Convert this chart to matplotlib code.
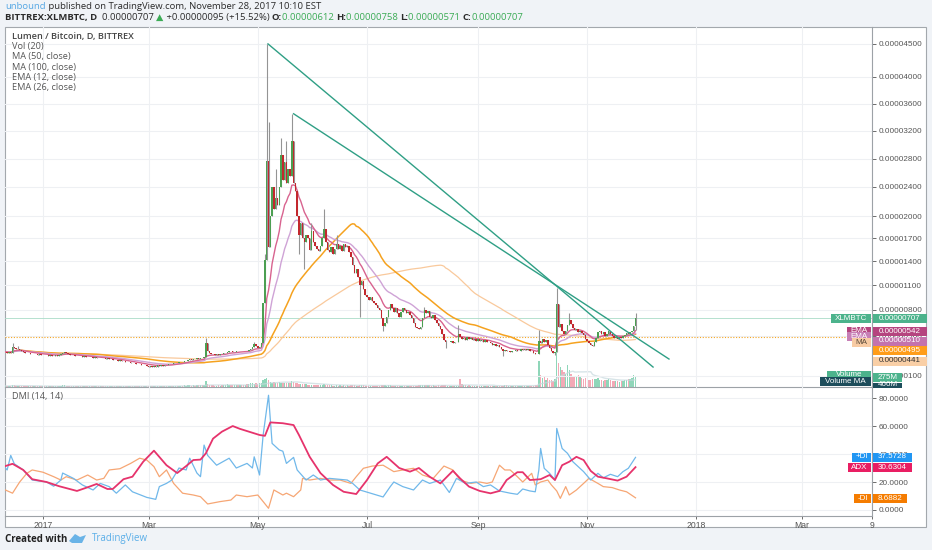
import numpy as np
import pandas as pd
import matplotlib
matplotlib.use('Agg')
import matplotlib.pyplot as plt
from matplotlib.patches import Rectangle, Polygon
from matplotlib.ticker import FixedLocator, FuncFormatter

# daily closes in satoshi (1e-8 BTC), 2016-12-11 .. 2017-11-28
close_dec = [330, 320, 325, 320, 380, 370, 360, 365, 350, 345, 330, 320, 315, 320, 310, 305, 310, 305, 300, 305, 300]
close_jan = [300, 295, 300, 290, 295, 285, 290, 295, 290, 300, 310, 320, 330, 315, 305, 300, 295, 300, 290, 285,
             290, 285, 280, 285, 280, 275, 280, 275, 270, 275, 270]
close_feb = [265, 270, 268, 265, 260, 265, 255, 260, 250, 245, 250, 240, 245, 235, 240, 230, 225, 230, 220, 215,
             220, 210, 205, 210, 200, 195, 200, 190]
close_mar = [185, 190, 185, 190, 185, 195, 190, 195, 190, 200, 195, 205, 210, 205, 215, 220, 215, 225, 230, 225,
             235, 240, 245, 255, 250, 260, 255, 265, 260, 270, 265]
close_apr = [275, 420, 340, 320, 310, 305, 300, 305, 300, 310, 305, 315, 320, 330, 345, 335, 325, 330, 340, 335,
             345, 340, 335, 345, 340, 350, 360, 380, 410, 390]
close_may = [370, 380, 420, 880, 1420, 2770, 1590, 2000, 2400, 2100, 2250, 2150, 2400, 2850, 2500, 2750, 2450, 2650,
             2550, 3050, 2450, 2350, 2000, 1750, 1900, 1700, 1650, 1750, 1700, 1550, 1800]
close_jun = [1650, 1600, 1560, 1530, 1600, 1700, 1820, 1650, 1550, 1520, 1580, 1500, 1560, 1620, 1560, 1600, 1530,
             1620, 1580, 1600, 1520, 1450, 1350, 1250, 1300, 1200, 1100, 1150, 1050, 980]
close_jul = [950, 920, 960, 900, 880, 860, 820, 800, 700, 610, 650, 720, 800, 870, 820, 780, 820, 760, 720, 780,
             820, 800, 760, 780, 740, 700, 650, 600, 590, 580, 600]
close_aug = [700, 800, 760, 790, 720, 700, 740, 680, 650, 610, 580, 520, 460, 430, 440, 430, 445, 425, 435, 440,
             520, 490, 470, 480, 460, 490, 470, 480, 460, 470, 450]
close_sep = [465, 445, 455, 440, 455, 430, 440, 420, 405, 415, 395, 400, 385, 360, 340, 350, 335, 340, 330, 345,
             335, 350, 340, 345, 360, 355, 365, 350, 360, 345]
close_oct = [340, 320, 310, 305, 450, 420, 470, 440, 460, 400, 370, 340, 320, 330, 870, 600, 640, 560, 520, 560,
             620, 680, 640, 590, 570, 575, 550, 560, 530, 510, 470]
close_nov = [450, 420, 400, 390, 430, 480, 540, 560, 520, 540, 500, 520, 560, 520, 500, 480, 495, 470, 490, 480,
             500, 510, 530, 520, 540, 560, 612, 707]

# wicks reaching past the bodies: day counted from 2017-01-01 -> satoshi
wick_high = {-17: 420, -14: 390, 91: 480, 118: 440, 124: 1500, 125: 4500, 126: 3330, 130: 2650, 133: 3100,
             136: 3050, 139: 3450, 150: 1900, 157: 2100, 164: 1750, 213: 830, 232: 620, 277: 570, 287: 1060,
             294: 760, 331: 758}
wick_low = {143: 1500, 146: 1300, 177: 720, 190: 560, 225: 370, 257: 290, 286: 300, 331: 571}

# volume, millions
vol_dec = [30, 25, 30, 35, 60, 45, 40, 40, 30, 30, 25, 25, 20, 25, 20, 20, 25, 20, 20, 25, 20]
vol_jan = [20, 20, 25, 20, 20, 20, 25, 20, 25, 30, 40, 45, 50, 30, 25, 20, 20, 25, 20, 20, 20, 22, 20, 18, 20,
           20, 25, 20, 18, 20, 20]
vol_feb = [20, 22, 18, 20, 25, 20, 18, 20, 22, 20, 18, 20, 20, 22, 18, 20, 20, 18, 22, 20, 18, 20, 22, 20, 25,
           20, 18, 20]
vol_mar = [20, 22, 18, 20, 22, 25, 20, 22, 20, 25, 25, 30, 25, 30, 35, 30, 35, 40, 35, 40, 45, 40, 45, 50, 40,
           45, 40, 50, 45, 50, 45]
vol_apr = [60, 160, 90, 60, 50, 45, 40, 40, 45, 40, 45, 50, 55, 70, 60, 55, 50, 55, 60, 55, 50, 55, 50, 60, 70,
           80, 120, 110, 90, 100]
vol_may = [90, 100, 120, 180, 220, 240, 200, 150, 120, 130, 110, 120, 140, 110, 120, 100, 100, 110, 120, 160,
           140, 120, 100, 90, 90, 90, 70, 70, 60, 60, 60]
vol_jun = [60, 55, 50, 50, 55, 60, 80, 60, 50, 45, 45, 40, 40, 50, 40, 45, 40, 45, 40, 45, 40, 45, 50, 45, 40,
           40, 55, 45, 45, 40]
vol_jul = [40, 35, 35, 38, 35, 36, 40, 40, 45, 50, 45, 40, 45, 50, 40, 35, 40, 35, 36, 35, 40, 35, 38, 35, 30,
           35, 36, 40, 40, 42, 45]
vol_aug = [50, 60, 55, 50, 45, 40, 42, 40, 40, 45, 40, 45, 50, 45, 40, 35, 36, 35, 38, 35, 35, 230, 80, 60, 50,
           40, 42, 40, 35, 36, 35]
vol_sep = [35, 36, 35, 38, 35, 35, 30, 32, 30, 30, 35, 36, 35, 35, 40, 50, 45, 40, 35, 36, 35, 38, 35, 35, 40,
           40, 35, 36, 40, 35]
vol_oct = [35, 40, 50, 45, 720, 330, 250, 280, 200, 260, 200, 180, 160, 220, 1700, 650, 560, 480, 420, 360, 600,
           460, 360, 300, 280, 300, 330, 280, 250, 220, 260]
vol_nov = [200, 180, 200, 220, 210, 230, 250, 200, 180, 170, 190, 200, 210, 180, 170, 160, 170, 160, 150, 160,
           170, 180, 200, 220, 230, 240, 320, 275]

# DMI (14, 14): (day from 2017-01-01, value)
adx = [(-21, 31.4), (-17, 33), (-11, 28.6), (-6, 22), (2, 20), (9, 17), (19, 13.6), (26, 16.7), (30, 18.6),
       (36, 15), (39, 15), (45, 22), (50, 23.8), (56, 34.5), (62, 42.4), (69, 32), (75, 26.4), (80, 31.4),
       (84, 35.7), (88, 36), (91, 40.5), (95, 51), (100, 56), (106, 60), (110, 58), (115, 56), (121, 53.6),
       (124, 53), (127, 62.6), (134, 62), (140, 60.7), (143, 53.6), (149, 38), (155, 26.4), (162, 17.9),
       (168, 13), (175, 11.4), (181, 21.4), (187, 33.3), (192, 38), (199, 30), (205, 27.4), (210, 30),
       (216, 23.8), (222, 19), (229, 28), (233, 22.6), (238, 16.7), (244, 13.6), (250, 11.9), (255, 13.6),
       (259, 21.4), (265, 27), (268, 27), (272, 21.4), (278, 22), (283, 25), (286, 21.4), (290, 32), (294, 34.5),
       (298, 38), (302, 35.7), (306, 27.9), (310, 23.8), (315, 22.6), (321, 21), (326, 23.8), (331, 30.6)]
plus_di = [(-21, 30), (-20, 28.6), (-18, 39), (-16, 33), (-11, 28.6), (-6, 21.4), (2, 20), (6, 17), (10, 21.4),
           (11, 26.4), (17, 22.6), (22, 17.9), (28, 14.3), (32, 19), (37, 16.7), (41, 12), (46, 17.9), (50, 13),
           (58, 9), (63, 7.6), (65, 16.7), (69, 19), (72, 21.4), (76, 30), (80, 28.6), (82, 37), (86, 26.4),
           (88, 23.8), (90, 46.4), (92, 39), (97, 32), (104, 37), (108, 30), (114, 33.3), (117, 30), (118, 38),
           (121, 25), (123, 53.6), (126, 82), (128, 47.6), (132, 42.9), (134, 42), (136, 33.3), (140, 37.6),
           (142, 28.6), (147, 21.4), (151, 25), (155, 21.4), (160, 22.6), (170, 21.4), (173, 19), (177, 14.3),
           (183, 12), (190, 9.3), (194, 16.7), (196, 20), (201, 16.7), (207, 14.3), (212, 21.4), (216, 19),
           (222, 21.4), (227, 12.5), (231, 22.6), (236, 19), (242, 20), (246, 16.7), (250, 17.9), (255, 13.6),
           (261, 12), (265, 11.2), (268, 15), (272, 13.6), (275, 13), (277, 28.6), (278, 44), (280, 29.8),
           (283, 26.2), (286, 21.4), (287, 58.3), (290, 44), (293, 40.5), (296, 34.5), (302, 27.4), (306, 21.4),
           (310, 26.2), (313, 23), (317, 25.5), (321, 23.8), (324, 27.4), (327, 29.8), (331, 37.6)]
minus_di = [(-21, 14.3), (-17, 12), (-13, 20), (-9, 26.2), (-6, 28.6), (0, 27), (6, 23.8), (10, 21.4), (13, 23.8),
            (19, 21.4), (25, 25), (30, 21.4), (34, 22.6), (37, 28.6), (43, 29.5), (49, 33.3), (54, 37), (58, 35.7),
            (62, 31), (65, 23.8), (69, 28.6), (73, 19), (78, 12), (84, 10.7), (88, 9.5), (92, 4.3), (99, 6),
            (105, 7.1), (108, 10.7), (114, 9.5), (120, 10.7), (123, 6), (126, 1.2), (129, 14.3), (134, 10.7),
            (136, 12), (140, 9.5), (144, 14.3), (145, 22.6), (149, 21.4), (155, 22.6), (160, 21.4), (166, 21.4),
            (172, 19), (175, 23.8), (179, 29.8), (184, 31.4), (190, 32), (196, 27.4), (201, 28.6), (207, 29.8),
            (212, 25), (218, 22.6), (224, 31.4), (229, 28.6), (233, 21.4), (239, 19), (244, 20), (248, 19),
            (251, 20), (255, 32), (258, 28.6), (261, 28.6), (265, 23.8), (268, 20), (273, 26.2), (275, 17.9),
            (278, 20), (282, 21.4), (284, 17.9), (287, 13.6), (289, 8.3), (292, 16.7), (294, 10.7), (298, 14.3),
            (302, 19), (305, 22.6), (310, 19), (313, 16.7), (318, 16), (322, 14.3), (326, 13), (331, 8.7)]

# hand drawn trend lines (day, satoshi)
trend_a = [(125.7, 4500), (340.8, 180)]
trend_b = [(140.0, 3450), (349.7, 258)]

price_ticks = [4500, 4000, 3600, 3200, 2800, 2400, 2000, 1700, 1400, 1100, 800, 500, 100]
dmi_ticks = [0, 20, 40, 60, 80]
time_ticks = ['2017-01-01', '2017-03-01', '2017-05-01', '2017-07-01', '2017-09-01', '2017-11-01',
              '2018-01-01', '2018-03-01', '2018-04-09']
time_labels = ['2017', 'Mar', 'May', 'Jul', 'Sep', 'Nov', '2018', 'Mar', '9']

# ---------------------------------------------------------------
t0 = pd.Timestamp('2017-01-01')
close = np.array(close_dec + close_jan + close_feb + close_mar + close_apr + close_may + close_jun +
                 close_jul + close_aug + close_sep + close_oct + close_nov, dtype=float)
volume = np.array(vol_dec + vol_jan + vol_feb + vol_mar + vol_apr + vol_may + vol_jun + vol_jul +
                  vol_aug + vol_sep + vol_oct + vol_nov, dtype=float)
dates = pd.date_range('2016-12-11', periods=len(close), freq='D')
x = np.array((dates - t0).days, dtype=float)

opn = np.r_[close[0], close[:-1]]
high = np.maximum(opn, close)
low = np.minimum(opn, close)
for d, v in wick_high.items():
    high[x == d] = v
for d, v in wick_low.items():
    low[x == d] = v
up = close >= opn

s = pd.Series(close)
ma50 = s.rolling(50, min_periods=1).mean()
ma100 = s.rolling(100, min_periods=1).mean()
ema12 = s.ewm(span=12, adjust=False).mean()
ema26 = s.ewm(span=26, adjust=False).mean()
vol_ma = pd.Series(volume).rolling(20, min_periods=1).mean()

W, H = 932, 550
fig = plt.figure(figsize=(W / 100, H / 100), dpi=100, facecolor='#f0f3f7')
AX_FONT = 'Liberation Sans'
TXT_FONT = ['Open Sans', 'DejaVu Sans']


def rect(x0, y0, x1, y1):
    return [x0 / W, 1 - y1 / H, (x1 - x0) / W, (y1 - y0) / H]


# chart frame
fig.add_artist(Rectangle((5 / W, 1 - 527 / H), 921 / W, 500 / H, transform=fig.transFigure,
                         fc='white', ec='#a3a8ad', lw=0.8, zorder=-1))

ax_v = fig.add_axes(rect(5, 27, 872, 387))
ax_p = fig.add_axes(rect(5, 27, 872, 387), sharex=ax_v)
ax_d = fig.add_axes(rect(5, 387, 872, 516), sharex=ax_v)
for a in (ax_v, ax_p, ax_d):
    a.set_facecolor('none')

x_lo, x_hi = -21.2, 463.1
ax_v.set_xlim(x_lo, x_hi)

# volume in the bottom of the price pane
ax_v.axis('off')
ax_v.bar(x, volume, width=0.75, color=np.where(up, '#8fd6b9', '#f3a9b6'), linewidth=0)
ax_v.plot(x, vol_ma, color='#c7d9de', lw=1.0, alpha=0.7)
ax_v.set_ylim(0, 9900)

# price pane, TradingView style compressed scale
ax_p.set_yscale('function', functions=(lambda v: np.clip(v, 1e-6, None) ** 0.85,
                                       lambda v: np.clip(v, 1e-6, None) ** (1 / 0.85)))
ax_p.set_ylim(13.3, 4760)
ax_p.yaxis.set_major_locator(FixedLocator(price_ticks))
ax_p.yaxis.set_major_formatter(FuncFormatter(lambda v, p: f'{v * 1e-8:.8f}'))
ax_p.yaxis.set_minor_locator(FixedLocator([]))
ax_p.yaxis.tick_right()
ax_p.tick_params(axis='y', labelsize=5.9, colors='#555555', length=3, width=0.6, pad=2)
ax_p.tick_params(axis='x', labelbottom=False, length=0)
for lab in ax_p.get_yticklabels():
    lab.set_family(AX_FONT)

xt = [(pd.Timestamp(d) - t0).days for d in time_ticks]
ax_p.set_xticks(xt)
for a in (ax_p, ax_d):
    a.grid(True, color='#eef0f3', lw=0.8)
    a.set_axisbelow(True)
    for k in ('left', 'top'):
        a.spines[k].set_visible(False)
    for k in ('right', 'bottom'):
        a.spines[k].set_color('#9da2a7')
        a.spines[k].set_linewidth(0.8)

ax_p.axhline(707, color='#a9dcc8', lw=0.6, zorder=1)
ax_p.axhline(495, color='#f5a623', lw=0.8, ls=(0, (1, 1.5)), zorder=1)

ax_p.plot(x, ma100, color='#f9c99c', lw=0.9, zorder=2)
ax_p.plot(x, ma50, color='#f5a21f', lw=1.1, zorder=2)
ax_p.plot(x, ema26, color='#cfa3d6', lw=1.0, zorder=2)
ax_p.plot(x, ema12, color='#d8638f', lw=1.0, zorder=2)

ax_p.vlines(x, low, high, color='#949494', lw=0.8, zorder=3)
ax_p.bar(x, np.maximum(np.abs(close - opn), 3), bottom=np.minimum(opn, close), width=0.82,
         color=np.where(up, '#4c9f52', '#c3282e'), linewidth=0, zorder=4)

for line in (trend_a, trend_b):
    tx, ty = zip(*line)
    ax_p.plot(tx, ty, color='#2f9f85', lw=1.0, zorder=5)

# DMI pane
for data, color, lw in ((minus_di, '#f6a674', 0.9), (plus_di, '#70b8ea', 0.9), (adx, '#e6336c', 1.3)):
    dx, dy = zip(*data)
    ax_d.plot(dx, dy, color=color, lw=lw)
ax_d.set_ylim(-4.3, 87.9)
ax_d.yaxis.set_major_locator(FixedLocator(dmi_ticks))
ax_d.yaxis.set_major_formatter(FuncFormatter(lambda v, p: f'{v:.4f}'))
ax_d.yaxis.tick_right()
ax_d.tick_params(axis='y', labelsize=5.9, colors='#555555', length=3, width=0.6, pad=2)
ax_d.set_xticks(xt)
ax_d.set_xticklabels(time_labels)
ax_d.tick_params(axis='x', labelsize=6.2, colors='#555555', length=2, width=0.6, pad=1.5)
for lab in ax_d.get_yticklabels() + ax_d.get_xticklabels():
    lab.set_family(AX_FONT)
ax_d.set_xlim(x_lo, x_hi)


# value tags on the right axis
def tag(x0, x1, yc, text, fc, tc='white', h=9):
    fig.add_artist(Rectangle((x0 / W, 1 - (yc + h / 2) / H), (x1 - x0) / W, h / H,
                             transform=fig.transFigure, fc=fc, ec='none', zorder=10))
    fig.text((x0 + x1) / 2 / W, 1 - yc / H, text, color=tc, fontsize=5.8, family=AX_FONT,
             ha='center', va='center', zorder=11)


tag(831, 871, 318, 'XLMBTC', '#4cb38c')
tag(873, 927, 318, '0.00000707', '#4cb38c')
tag(847, 871, 331, 'EMA', '#b5447f')
tag(873, 927, 331.5, '0.00000542', '#b5447f')
tag(847, 871, 336, 'EMA', '#c77fb6')
tag(852, 871, 342, 'MA', '#f8cba3', '#5a4a3a')
tag(873, 927, 341, '0.00000510', '#c472ad')
tag(873, 927, 350.5, '0.00000495', '#ff9d1a')
tag(873, 927, 361, '0.00000441', '#f9cfa6', '#333333')
tag(827, 871, 375, 'Volume', '#4cb38c')
tag(873, 902, 377.5, '275M', '#4cb38c')
tag(873, 902, 385, '466M', '#1d4d5b', h=5)
tag(820, 871, 381.5, 'Volume MA', '#1d4d5b')
tag(852, 871, 457, '+DI', '#2196f3')
tag(873, 912, 457, '37.5728', '#2196f3')
tag(848, 871, 467.5, 'ADX', '#e91e63')
tag(873, 912, 467.5, '30.6304', '#e91e63')
tag(854, 871, 498, '-DI', '#f57c00')
tag(873, 907, 498, '8.6882', '#f57c00')

# legends inside the panes
fig.text(12 / W, 1 - 36 / H, 'Lumen / Bitcoin, D, BITTREX', fontsize=6.6, color='#444444',
         fontweight='semibold', family=TXT_FONT, va='center')
for i, s_ in enumerate(['Vol (20)', 'MA (50, close)', 'MA (100, close)', 'EMA (12, close)', 'EMA (26, close)']):
    fig.text(12 / W, 1 - (46.5 + 10.3 * i) / H, s_, fontsize=6.6, color='#555555', family=TXT_FONT, va='center')
fig.text(12 / W, 1 - 397 / H, 'DMI (14, 14)', fontsize=6.6, color='#555555', family=TXT_FONT, va='center')

# header and footer
rend = fig.canvas.get_renderer()


def text_run(x0, y, parts, size=6.8):
    for txt, color, weight in parts:
        t = fig.text(x0 / W, 1 - y / H, txt, color=color, fontsize=size, fontweight=weight,
                     family=TXT_FONT, ha='left', va='center')
        x0 = t.get_window_extent(rend).x1


dark = '#2b2b2b'
green = '#3bab55'
text_run(5, 6.5, [('unbound', '#55a7e4', 'normal'),
                  (' published on TradingView.com, November 28, 2017 10:10 EST', dark, 'normal')])
text_run(5, 17.5, [('BITTREX:XLMBTC, D', dark, 'bold'), ('  0.00000707 ', dark, 'normal'),
                   ('\u25b2', green, 'normal'), (' +0.00000095 (+15.52%) ', dark, 'normal'),
                   ('O:', dark, 'bold'), ('0.00000612 ', green, 'normal'),
                   ('H:', dark, 'bold'), ('0.00000758 ', green, 'normal'),
                   ('L:', dark, 'bold'), ('0.00000571 ', green, 'normal'),
                   ('C:', dark, 'bold'), ('0.00000707', green, 'normal')])

text_run(5, 539, [('Created with', '#222222', 'bold')], size=7)
fig.add_artist(Polygon([[69 / W, 1 - 541 / H], [75 / W, 1 - 534 / H], [80 / W, 1 - 537 / H],
                        [86 / W, 1 - 535 / H], [82 / W, 1 - 543 / H], [72 / W, 1 - 543 / H]],
                       closed=True, transform=fig.transFigure, fc='#69b3e7', ec='none'))
text_run(92, 539, [('TradingView', '#5aaee8', 'normal')], size=7)

fig.savefig('out.png', dpi=100, facecolor=fig.get_facecolor())
